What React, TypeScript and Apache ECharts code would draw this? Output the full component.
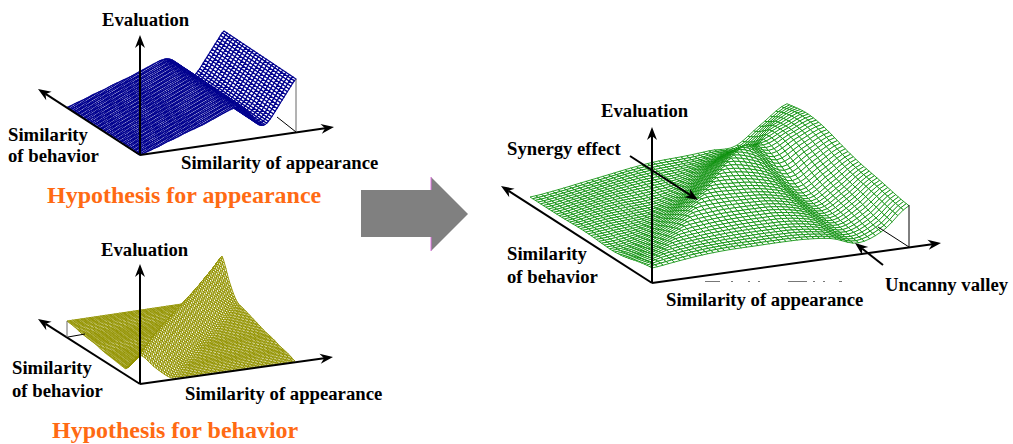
import React, { useEffect, useRef } from "react";
import * as echarts from "echarts";

// Heights (px above the base plane), u = appearance, v = behavior
const blueProfile = [0, 2, 4, 6, 8.5, 10.5, 12.5, 15, 17, 19, 21, 23.5, 26, 28.5, 31, 33, 33.5, 30, 22, 13, 12, 18, 27, 36, 45, 53];

// Ridge on the line appearance = behavior, crest height by position along it
const yellowRidge = [29, 33, 37, 40, 42, 44, 46, 48, 51, 54, 58];
const yellowFrontPlane = [0, 3, 5, 8, 10, 13, 16, 19, 21, 22, 24]; // v < u, by v
const yellowBackPlane = [5, 6, 6, 7, 8, 9, 11, 12, 13, 15, 16]; // v > u, by v
const yellowFrontFall = [1, 0.45, 0.05, 0, 0, 0]; // by |u - v| in steps of 0.1
const yellowBackFall = [1, 0.42, 0, 0, 0, 0];

const greenBase = [
  [12, 15, 18, 20, 21, 22, 22, 19, 11, 20, 41],
  [9, 12, 16, 20, 24, 27, 29, 26, 17, 30, 48],
  [9, 13, 17, 21, 25, 29, 32, 30, 20, 38, 55],
  [8, 12, 16, 20, 25, 30, 34, 33, 27, 46, 62],
  [8, 11, 15, 19, 23, 27, 30, 32, 30, 46, 65],
];
const greenRidge = [3, 6, 10, 15, 20, 23, 25, 25, 20, 10, 0];
const greenFrontFall = [1, 0.75, 0.5, 0.3, 0.15, 0.05, 0, 0];
const greenBackFall = [1, 0.5, 0, -0.2, -0.15, -0.05, 0, 0];

// Clipped remains of a caption under the green chart: start, end
const captionScraps = [[705, 720], [731, 733], [748, 750], [758, 760], [788, 807], [813, 815], [823, 825], [839, 842]];

const cr = (a: number, b: number, c: number, d: number, t: number) =>
  0.5 * (2 * b + (c - a) * t + (2 * a - 5 * b + 4 * c - d) * t * t + (3 * b - a - 3 * c + d) * t * t * t);
const sample1 = (arr: number[], s: number) => {
  const n = arr.length - 1;
  const p = Math.min(Math.max(s, 0) * n, n - 1e-6);
  const i = Math.floor(p);
  const g = (k: number) => arr[Math.max(0, Math.min(n, k))];
  return cr(g(i - 1), g(i), g(i + 1), g(i + 2), p - i);
};
const sample2 = (tbl: number[][], u: number, v: number) => {
  const n = tbl.length - 1;
  const p = Math.min(v * n, n - 1e-6);
  const j = Math.floor(p);
  const g = (k: number) => sample1(tbl[Math.max(0, Math.min(n, k))], u);
  return cr(g(j - 1), g(j), g(j + 1), g(j + 2), p - j);
};
const fall = (arr: number[], d: number) => {
  const s = d / (0.1 * (arr.length - 1));
  return s >= 1 ? 0 : sample1(arr, s);
};
const yellowH = (u: number, v: number) => {
  const plane = v < u ? sample1(yellowFrontPlane, v) : sample1(yellowBackPlane, v);
  const f = v < u ? fall(yellowFrontFall, u - v) : fall(yellowBackFall, v - u);
  const crest = sample1(yellowRidge, (u + v) / 2);
  return Math.max(0, plane + (crest - plane) * Math.max(0, f));
};
const greenH = (u: number, v: number) => {
  const f = v < u ? fall(greenFrontFall, u - v) : fall(greenBackFall, v - u);
  return Math.max(0, sample2(greenBase, u, v) + sample1(greenRidge, (u + v) / 2) * f);
};

type Panel = { o: number[]; a: number[]; b: number[]; nu: number; nv: number; color: string; lw: number; h: (u: number, v: number) => number };
const panels: Panel[] = [
  { o: [140, 155], a: [156, -23], b: [-72, -48], nu: 90, nv: 22, color: "#00008f", lw: 1.2, h: (u) => Math.max(0, sample1(blueProfile, u)) },
  { o: [140, 384], a: [155, -23], b: [-73, -47], nu: 56, nv: 56, color: "#949400", lw: 1, h: yellowH },
  { o: [652, 283], a: [257, -36.3], b: [-122, -78], nu: 46, nv: 46, color: "#0a8f0a", lw: 0.85, h: greenH },
];

const meshSeries = (p: Panel) => {
  const data: number[][] = [];
  for (let j = p.nv - 1; j >= 0; j--) for (let i = p.nu - 1; i >= 0; i--) data.push([i, j]);
  const pt = (i: number, j: number) => {
    const u = i / p.nu, v = j / p.nv;
    return [p.o[0] + u * p.a[0] + v * p.b[0], p.o[1] + u * p.a[1] + v * p.b[1] - p.h(u, v)];
  };
  return {
    type: "custom",
    coordinateSystem: "cartesian2d",
    silent: true,
    clip: false,
    progressive: 0,
    data,
    renderItem: (_: any, api: any) => {
      const i = api.value(0), j = api.value(1);
      const pts = [pt(i, j), pt(i + 1, j), pt(i + 1, j + 1), pt(i, j + 1)].map((c) => api.coord(c));
      return { type: "polygon", shape: { points: pts }, style: { fill: "#fff", stroke: p.color, lineWidth: p.lw } };
    },
  };
};

const arrow = (x1: number, y1: number, x2: number, y2: number, w = 2) => {
  const d = Math.hypot(x2 - x1, y2 - y1);
  const ux = (x2 - x1) / d, uy = (y2 - y1) / d;
  const L = 13, H = 5, N = 9;
  return [
    { type: "line", z: 20, shape: { x1, y1, x2: x2 - ux * N, y2: y2 - uy * N }, style: { stroke: "#000", lineWidth: w } },
    {
      type: "polygon", z: 20,
      shape: {
        points: [
          [x2, y2],
          [x2 - ux * L - uy * H, y2 - uy * L + ux * H],
          [x2 - ux * N, y2 - uy * N],
          [x2 - ux * L + uy * H, y2 - uy * L - ux * H],
        ],
      },
      style: { fill: "#000" },
    },
  ];
};
const thin = (x1: number, y1: number, x2: number, y2: number, stroke = "#000", lineWidth = 1) => ({
  type: "line", z: 20, shape: { x1, y1, x2, y2 }, style: { stroke, lineWidth },
});
const label = (text: string, x: number, y: number, size = 18.7, fill = "#000") => ({
  type: "text", z: 30, x, y,
  style: { text, fill, font: `bold ${size}px "Liberation Serif"`, textVerticalAlign: "middle", textAlign: "left" },
});

const graphics = [
  ...arrow(140, 155, 140, 35), ...arrow(140, 155, 38, 89), ...arrow(140, 155, 334, 127),
  ...arrow(140, 384, 140, 264), ...arrow(140, 384, 38, 319), ...arrow(140, 384, 333, 357),
  ...arrow(652, 283, 652, 127), ...arrow(652, 283, 501, 186), ...arrow(652, 283, 941, 243),
  ...arrow(630, 156, 698, 200), ...arrow(883, 265, 855, 243),
  thin(296, 132, 296, 79, "#666"), thin(296, 132, 277, 117),
  thin(67, 337, 67, 321, "#666"), thin(68, 337, 85, 334),
  thin(909, 247, 909, 205), thin(909, 247, 878, 227),
  ...captionScraps.map(([a, b]) => thin(a, 281.5, b, 281.5, "#777")),
  {
    type: "polygon", z: 15,
    shape: { points: [[361, 190], [431, 190], [431, 177], [468, 214], [431, 251], [431, 237], [361, 237]] },
    style: { fill: "#808080" },
  },
  thin(431, 177, 431, 190, "#e070e0"), thin(431, 237, 431, 251, "#e070e0"),
  label("Evaluation", 102, 19), label("Similarity", 8, 134), label("of behavior", 8, 155),
  label("Similarity of appearance", 181, 162), label("Hypothesis for appearance", 47, 195, 24, "#ff6a13"),
  label("Evaluation", 101, 249), label("Similarity", 12, 367), label("of behavior", 12, 390),
  label("Similarity of appearance", 185, 393), label("Hypothesis for behavior", 52, 430, 24, "#ff6a13"),
  label("Evaluation", 601, 110), label("Synergy effect", 507, 148), label("Similarity", 507, 253), label("of behavior", 507, 276),
  label("Similarity of appearance", 666, 299), label("Uncanny valley", 885, 284),
];

export default function App() {
  const ref = useRef<HTMLDivElement>(null);
  useEffect(() => {
    const chart = echarts.init(ref.current!, null, { renderer: "svg" });
    chart.setOption({
      animation: false,
      backgroundColor: "#fff",
      grid: { left: 0, right: 0, top: 0, bottom: 0 },
      xAxis: { type: "value", min: 0, max: 1013, show: false },
      yAxis: { type: "value", min: 0, max: 444, inverse: true, show: false },
      series: panels.map(meshSeries),
      graphic: graphics,
    });
    return () => chart.dispose();
  }, []);
  return <div ref={ref} style={{ position: "fixed", left: 0, top: 0, width: 1013, height: 444 }} />;
}
